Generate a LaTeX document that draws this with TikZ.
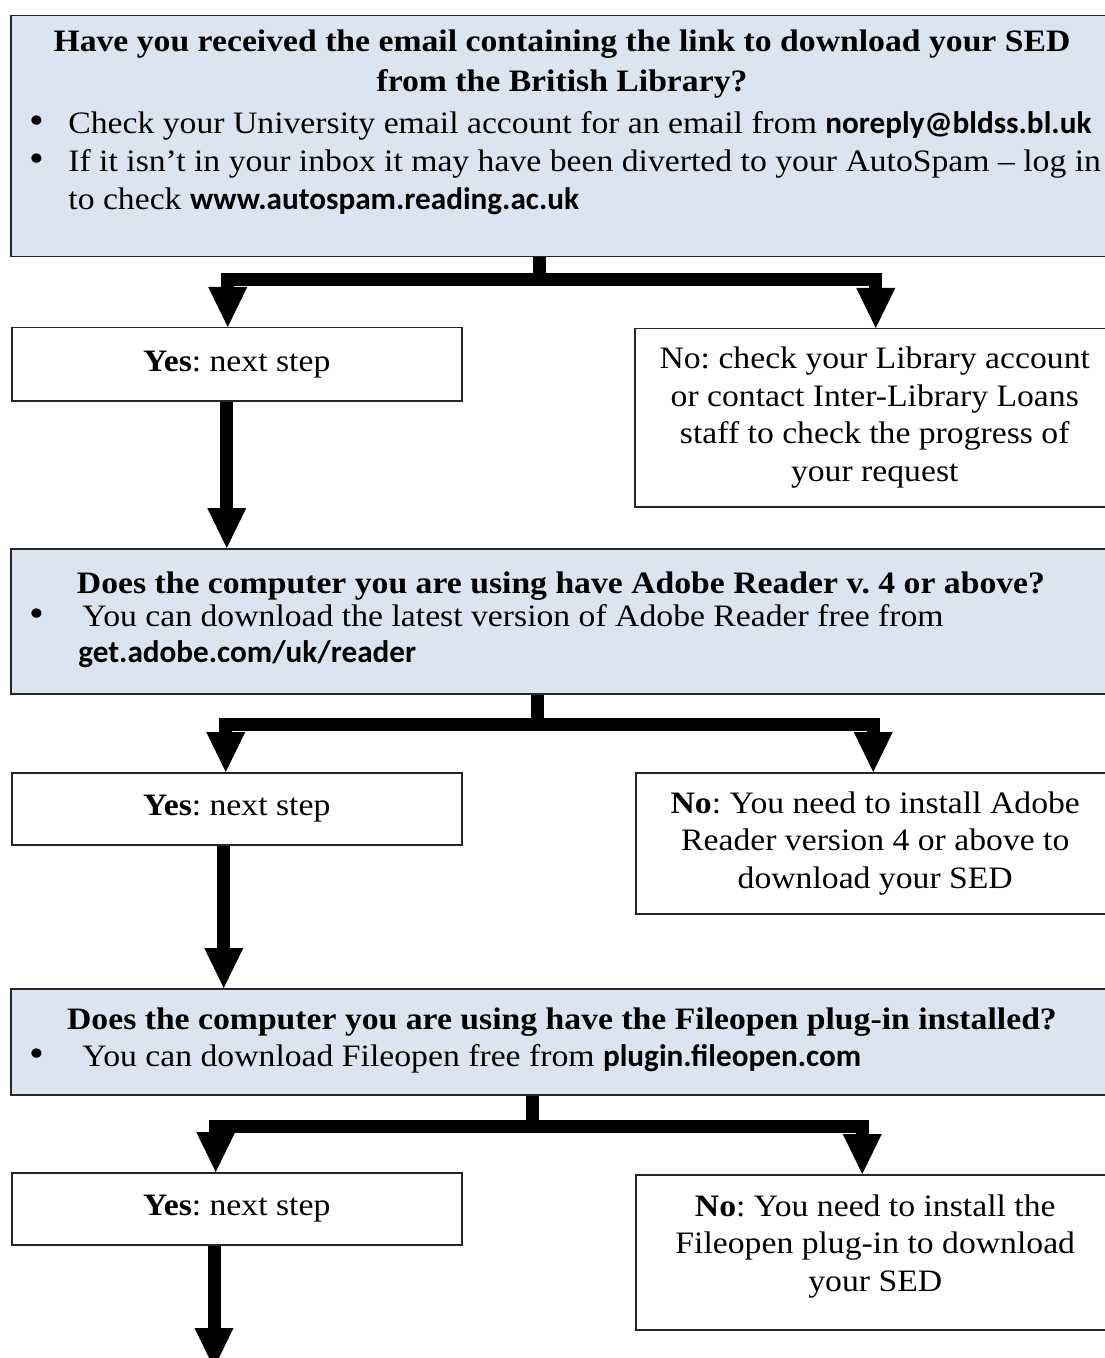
\documentclass[tikz,border=0pt]{standalone}
\usepackage{fontspec}
\setmainfont{Liberation Serif}[FakeStretch=1.08]
\newfontfamily\urlfont{Carlito}
\usetikzlibrary{arrows.meta}
\definecolor{qfill}{HTML}{DBE5F1}
\definecolor{qline}{HTML}{262626}
\newcommand{\web}[1]{{\urlfont\bfseries #1}}
\newcommand{\decision}[6] % question, yes box, no box, junction, yes shift, no shift
{
	% stem down from the question
	\draw[trunk] (#1.south -| #4) -- (#4);
	% branches to both answers
	\draw[flow] (#4) -| ([xshift=#5]#2.north);
	\draw[flow] (#4) -| ([xshift=#6]#3.north);
}
\newcommand{\onward}[3] % from box, to box, shift in pt
{
	\coordinate (#1d) at ([xshift=#3]#1.south);
	\draw[flow] (#1d) -- (#1d |- #2.north);
}

\begin{document}
\frenchspacing
\fontsize{15.6}{18.75}\selectfont
\begin{tikzpicture}[x=0.5pt, y=-0.5pt,
	qbox/.style={draw=qline, fill=qfill, line width=0.75pt, anchor=north west, inner sep=0pt, minimum width=552pt},
	abox/.style={draw=qline, line width=0.75pt, anchor=north west, inner sep=0pt, align=center},
	title/.style={anchor=base, inner sep=0pt, font=\bfseries},
	item/.style={anchor=base west, inner sep=0pt},
	dot/.style={anchor=base, inner sep=0pt, scale=1.25},
	trunk/.style={line width=6.5pt, line join=miter},
	flow/.style={trunk, -{Triangle[width=19.5pt, length=20pt, line width=0pt]}}]
	\useasboundingbox (0,0) rectangle (1104,1358);

	% first question: the email
	\node[qbox, minimum height=120.5pt] (q1) at (10,15) {};
	\node[title] (q1t1) at (562,52) {Have you received the email containing the link to download your SED};
	\node[title] (q1t2) at (562,92) {from the British Library?};
	\node[dot] (q1b1) at (37,134) {\textbullet};
	\node[item] (q1i1) at (68,134) {Check your University email account for an email from \web{noreply@bldss.bl.uk}};
	\node[dot] (q1b2) at (37,172) {\textbullet};
	\node[item] (q1i2) at (68,172) {If it isn’t in your inbox it may have been diverted to your AutoSpam – log in};
	\node[item] (q1i3) at (68,210) {to check \web{www.autospam.reading.ac.uk}};

	\node[abox, minimum width=225pt, minimum height=36.5pt] (y1) at (11,327) {\textbf{Yes}: next step};
	\node[abox, minimum width=240pt, minimum height=89pt] (n1) at (634,328) {No: check your Library account\\or contact Inter-Library Loans\\staff to check the progress of\\your request};

	% second question: Adobe Reader
	\node[qbox, minimum height=72.5pt] (q2) at (10,548) {};
	\node[title] (q2t) at (561,593) {Does the computer you are using have Adobe Reader v. 4 or above?};
	\node[dot] (q2b) at (37,626) {\textbullet};
	\node[item] (q2i1) at (82,626) {You can download the latest version of Adobe Reader free from};
	\node[item] (q2i2) at (78,662) {\web{get.adobe.com/uk/reader}};

	\node[abox, minimum width=225pt, minimum height=36pt] (y2) at (11,772) {\textbf{Yes}: next step};
	\node[abox, minimum width=239.5pt, minimum height=70.5pt] (n2) at (635,772) {\textbf{No}: You need to install Adobe\\Reader version 4 or above to\\download your SED};

	% third question: Fileopen
	\node[qbox, minimum height=53pt] (q3) at (10,988) {};
	\node[title] (q3t) at (562,1029) {Does the computer you are using have the Fileopen plug-in installed?};
	\node[dot] (q3b) at (37,1066) {\textbullet};
	\node[item] (q3i1) at (82,1066) {You can download Fileopen free from \web{plugin.fileopen.com}};

	\node[abox, minimum width=225pt, minimum height=36pt] (y3) at (11,1172) {\textbf{Yes}: next step};
	\node[abox, minimum width=239.5pt, minimum height=77.5pt] (n3) at (635,1174) {\textbf{No}: You need to install the\\Fileopen plug-in to download\\your SED\rule[-9.4pt]{0pt}{0pt}};

	% forks
	\coordinate (j1) at (539,280);
	\coordinate (j2) at (537,724);
	\coordinate (j3) at (532,1126);
	\decision{q1}{y1}{n1}{j1}{-4.5pt}{0.5pt};
	\decision{q2}{y2}{n2}{j2}{-5.5pt}{-1pt};
	\decision{q3}{y3}{n3}{j3}{-10.5pt}{-6.5pt};

	% yes: on to the next question
	\onward{y1}{q2}{-5pt};
	\onward{y2}{q3}{-6.5pt};
	\coordinate (finish) at (214,1368);
	\draw[flow] (y3.south -| finish) -- (finish);
\end{tikzpicture}
\end{document}
